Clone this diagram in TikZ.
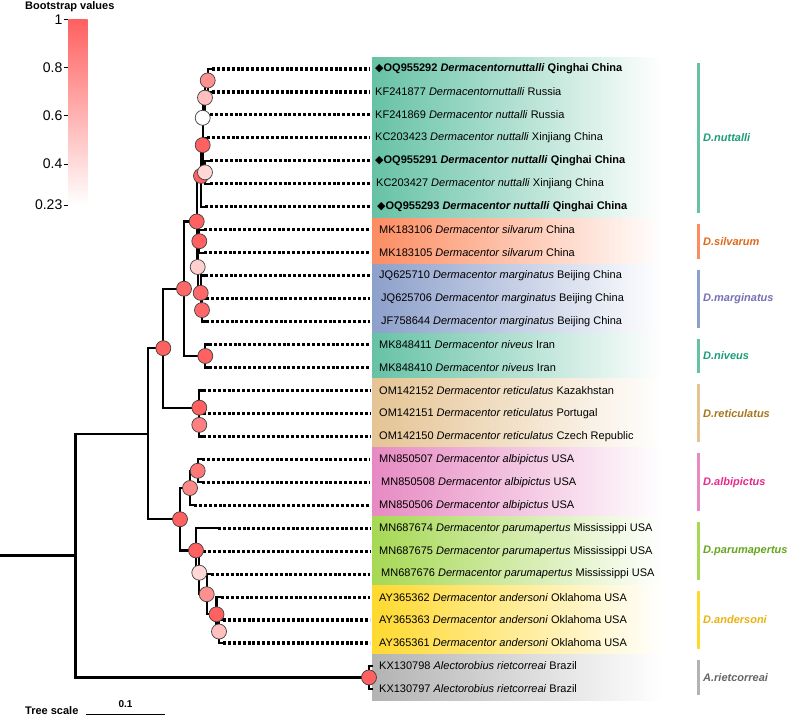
\documentclass[tikz,border=0pt]{standalone}
\usepackage{fontspec}
\setmainfont{Liberation Sans}
\newfontfamily\symfont{DejaVu Sans}
\definecolor{bsred}{RGB}{255,96,96}
\definecolor{cnut}{HTML}{66C2A5}
\definecolor{csil}{HTML}{FC8D62}
\definecolor{cmar}{HTML}{8DA0CB}
\definecolor{cniv}{HTML}{66C2A5}
\definecolor{cret}{HTML}{E5C494}
\definecolor{calb}{HTML}{E78AC3}
\definecolor{cpar}{HTML}{A6D854}
\definecolor{cand}{HTML}{FFD92F}
\definecolor{crie}{HTML}{B3B3B3}
\definecolor{tnut}{HTML}{1B9E77}
\definecolor{tsil}{HTML}{E0661A}
\definecolor{tmar}{HTML}{7570B3}
\definecolor{tniv}{HTML}{1B9E77}
\definecolor{tret}{HTML}{A6761D}
\definecolor{talb}{HTML}{E7298A}
\definecolor{tpar}{HTML}{66A61E}
\definecolor{tand}{HTML}{EBB012}
\definecolor{trie}{HTML}{666666}
\newcommand\leafrow[5]{%
  \coordinate (t#1) at (#3,#2);
  \coordinate (e#1) at (370,#2);
  \node[lbl] (lab#1) at (#4,#2) {#5};}
\newcommand\dmd{{\symfont\char"25C6}}
\begin{document}
\begin{tikzpicture}[x=1pt,y=-1pt,
  branch/.style={line width=2.3pt},
  dots/.style={line width=3.1pt, dash pattern=on 3pt off 1.9pt},
  bs/.style={circle, draw=black!75, line width=0.7pt, minimum size=15pt, inner sep=0pt, fill=bsred!#1!white},
  lbl/.style={anchor=west, inner sep=0pt, font=\fontsize{11}{13}\selectfont},
  clade/.style={anchor=west, inner sep=0pt, font=\fontsize{11}{13}\selectfont\bfseries\itshape},
  cbar/.style={line width=3pt},
  tick/.style={anchor=east, inner sep=0pt, font=\fontsize{14}{16}\selectfont}]
\useasboundingbox (0,0) rectangle (789,717);
% bands
\shade[left color=cnut, right color=white] (372,57.52) rectangle (662,218.24);
\shade[left color=csil, right color=white] (372,218.24) rectangle (662,264.16);
\shade[left color=cmar, right color=white] (372,264.16) rectangle (662,333.04);
\shade[left color=cniv, right color=white] (372,333.04) rectangle (662,378.96);
\shade[left color=cret, right color=white] (372,378.96) rectangle (662,447.84);
\shade[left color=calb, right color=white] (372,447.84) rectangle (662,516.72);
\shade[left color=cpar, right color=white] (372,516.72) rectangle (662,585.60);
\shade[left color=cand, right color=white] (372,585.60) rectangle (662,654.48);
\shade[left color=crie, right color=white] (372,654.48) rectangle (662,700.40);
% leaves
\leafrow{0}{69.00}{212}{375}{\bfseries\dmd OQ955292 \textit{Dermacentornuttalli} Qinghai China}
\leafrow{1}{91.96}{212}{375}{KF241877 \textit{Dermacentornuttalli} Russia}
\leafrow{2}{114.92}{210}{375}{KF241869 \textit{Dermacentor nuttalli} Russia}
\leafrow{3}{137.88}{207}{375}{KC203423 \textit{Dermacentor nuttalli} Xinjiang China}
\leafrow{4}{160.84}{210}{375}{\bfseries\dmd OQ955291 \textit{Dermacentor nuttalli} Qinghai China}
\leafrow{5}{183.80}{210}{376}{KC203427 \textit{Dermacentor nuttalli} Xinjiang China}
\leafrow{6}{206.76}{205}{377}{\bfseries\dmd OQ955293 \textit{Dermacentor nuttalli} Qinghai China}
\leafrow{7}{229.72}{204}{379}{MK183106 \textit{Dermacentor silvarum} China}
\leafrow{8}{252.68}{204}{379}{MK183105 \textit{Dermacentor silvarum} China}
\leafrow{9}{275.64}{205}{379}{JQ625710 \textit{Dermacentor marginatus} Beijing China}
\leafrow{10}{298.60}{206}{381}{JQ625706 \textit{Dermacentor marginatus} Beijing China}
\leafrow{11}{321.56}{206}{381}{JF758644 \textit{Dermacentor marginatus} Beijing China}
\leafrow{12}{344.52}{209}{379}{MK848411 \textit{Dermacentor niveus} Iran}
\leafrow{13}{367.48}{209}{379}{MK848410 \textit{Dermacentor niveus} Iran}
\leafrow{14}{390.44}{203}{379}{OM142152 \textit{Dermacentor reticulatus} Kazakhstan}
\leafrow{15}{413.40}{203}{379}{OM142151 \textit{Dermacentor reticulatus} Portugal}
\leafrow{16}{436.36}{203}{379}{OM142150 \textit{Dermacentor reticulatus} Czech Republic}
\leafrow{17}{459.32}{202}{379}{MN850507 \textit{Dermacentor albipictus} USA}
\leafrow{18}{482.28}{202}{381}{MN850508 \textit{Dermacentor albipictus} USA}
\leafrow{19}{505.24}{194}{379}{MN850506 \textit{Dermacentor albipictus} USA}
\leafrow{20}{528.20}{218}{379}{MN687674 \textit{Dermacentor parumapertus} Mississippi USA}
\leafrow{21}{551.16}{203}{379}{MN687675 \textit{Dermacentor parumapertus} Mississippi USA}
\leafrow{22}{574.12}{211}{381}{MN687676 \textit{Dermacentor parumapertus} Mississippi USA}
\leafrow{23}{597.08}{221}{379}{AY365362 \textit{Dermacentor andersoni} Oklahoma USA}
\leafrow{24}{620.04}{223}{379}{AY365363 \textit{Dermacentor andersoni} Oklahoma USA}
\leafrow{25}{643.00}{223}{379}{AY365361 \textit{Dermacentor andersoni} Oklahoma USA}
\leafrow{26}{665.96}{373}{379}{KX130798 \textit{Alectorobius rietcorreai} Brazil}
\leafrow{27}{688.92}{373}{379}{KX130797 \textit{Alectorobius rietcorreai} Brazil}
% dotted leaders
\foreach \i in {0,...,25} \draw[dots] (t\i) -- (e\i);
% internal nodes
\coordinate (N01) at (207.7,80.48);
\coordinate (N012) at (205,97.70);
\coordinate (N0123) at (202.7,117.79);
\coordinate (N45) at (205,172.32);
\coordinate (N05) at (202.7,145.06);
\coordinate (Nnut) at (201,175.91);
\coordinate (Nsilv) at (199.3,241.20);
\coordinate (N1011) at (202,310.08);
\coordinate (Nmarg) at (200.7,292.86);
\coordinate (Nsm) at (197.7,267.03);
\coordinate (A1a) at (196.7,221.47);
\coordinate (Nniv) at (205.3,356.00);
\coordinate (A1) at (184,288.74);
\coordinate (N1516) at (199.3,424.88);
\coordinate (A2) at (199.3,407.66);
\coordinate (A) at (163.3,348.20);
\coordinate (N1718) at (197.7,470.80);
\coordinate (B1) at (190,488.02);
\coordinate (E) at (219,631.52);
\coordinate (D) at (216.5,614.30);
\coordinate (C) at (206.7,594.21);
\coordinate (Npink) at (199.3,572.69);
\coordinate (B2) at (196,550.45);
\coordinate (B) at (180,519.24);
\coordinate (In) at (148,433.72);
\coordinate (Out) at (369,677.44);
\coordinate (Root) at (75.5,555.58);
\coordinate (R0) at (0,555.58);
% branches
\draw[branch] (R0) -- (Root);
\draw[branch] (Root) |- (In) (Root) |- (Out);
\draw[branch] (Out) |- (t26) (Out) |- (t27);
\draw[branch] (In) |- (A) (In) |- (B);
\draw[branch] (A) |- (A1) (A) |- (A2);
\draw[branch] (A1) |- (A1a) (A1) |- (Nniv);
\draw[branch] (A1a) |- (Nnut) (A1a) |- (Nsm);
\draw[branch] (Nnut) |- (N05) (Nnut) |- (t6);
\draw[branch] (N05) |- (N0123) (N05) |- (N45);
\draw[branch] (N0123) |- (N012) (N0123) |- (t3);
\draw[branch] (N012) |- (N01) (N012) |- (t2);
\draw[branch] (N01) |- (t0) (N01) |- (t1);
\draw[branch] (N45) |- (t4) (N45) |- (t5);
\draw[branch] (Nsm) |- (Nsilv) (Nsm) |- (Nmarg);
\draw[branch] (Nsilv) |- (t7) (Nsilv) |- (t8);
\draw[branch] (Nmarg) |- (t9) (Nmarg) |- (N1011);
\draw[branch] (N1011) |- (t10) (N1011) |- (t11);
\draw[branch] (Nniv) |- (t12) (Nniv) |- (t13);
\draw[branch] (A2) |- (t14) (A2) |- (N1516);
\draw[branch] (N1516) |- (t15) (N1516) |- (t16);
\draw[branch] (B) |- (B1) (B) |- (B2);
\draw[branch] (B1) |- (N1718) (B1) |- (t19);
\draw[branch] (N1718) |- (t17) (N1718) |- (t18);
\draw[branch] (B2) |- (t20) (B2) |- (Npink);
\draw[branch] (Npink) |- (t21) (Npink) |- (C);
\draw[branch] (C) |- (t22) (C) |- (D);
\draw[branch] (D) |- (t23) (D) |- (E);
\draw[branch] (E) |- (t24) (E) |- (t25);
% bootstrap circles (ancestors first)
\node[bs=100] (cA) at (A) {};
\node[bs=100] (cB) at (B) {};
\node[bs=95] (cA1) at (A1) {};
\node[bs=100] (cA1a) at (A1a) {};
\node[bs=100] (cNnut) at (Nnut) {};
\node[bs=100] (cN05) at (N05) {};
\node[bs=0] (cN0123) at (N0123) {};
\node[bs=40] (cN012) at (N012) {};
\node[bs=70] (cN01) at (N01) {};
\node[bs=25] (cN45) at (N45) {};
\node[bs=30] (cNsm) at (Nsm) {};
\node[bs=100] (cNsilv) at (Nsilv) {};
\node[bs=95] (cNmarg) at (Nmarg) {};
\node[bs=95] (cN1011) at (N1011) {};
\node[bs=100] (cNniv) at (Nniv) {};
\node[bs=100] (cA2) at (A2) {};
\node[bs=80] (cN1516) at (N1516) {};
\node[bs=75] (cB1) at (B1) {};
\node[bs=85] (cN1718) at (N1718) {};
\node[bs=100] (cB2) at (B2) {};
\node[bs=25] (cNpink) at (Npink) {};
\node[bs=70] (cC) at (C) {};
\node[bs=100] (cD) at (D) {};
\node[bs=40] (cE) at (E) {};
\node[bs=100] (cOut) at (Out) {};
% clade bars
\draw[cbar, cnut] (698.7,63) -- (698.7,212.76);
\draw[cbar, csil] (698.7,223.72) -- (698.7,258.68);
\draw[cbar, cmar] (698.7,269.64) -- (698.7,327.56);
\draw[cbar, cniv] (698.7,338.52) -- (698.7,373.48);
\draw[cbar, cret] (698.7,384.44) -- (698.7,442.36);
\draw[cbar, calb] (698.7,453.32) -- (698.7,511.24);
\draw[cbar, cpar] (698.7,522.2) -- (698.7,580.12);
\draw[cbar, cand] (698.7,591.08) -- (698.7,649);
\draw[cbar, crie] (698.7,659.96) -- (698.7,694.92);
\node[clade, text=tnut] (knut) at (703,137.88) {D.nuttalli};
\node[clade, text=tsil] (ksil) at (703,241.2) {D.silvarum};
\node[clade, text=tmar] (kmar) at (703,298.6) {D.marginatus};
\node[clade, text=tniv] (kniv) at (703,356) {D.niveus};
\node[clade, text=tret] (kret) at (703,413.4) {D.reticulatus};
\node[clade, text=talb] (kalb) at (703,482.28) {D.albipictus};
\node[clade, text=tpar] (kpar) at (703,551.16) {D.parumapertus};
\node[clade, text=tand] (kand) at (703,620.04) {D.andersoni};
\node[clade, text=trie] (krie) at (703,677.44) {A.rietcorreai};
% legend
\node[anchor=west, inner sep=0pt, font=\fontsize{11}{13}\selectfont\bfseries] (ltitle) at (25,7) {Bootstrap values};
\shade[top color=bsred, bottom color=white] (68.3,19.3) rectangle (87.7,205);
\foreach \v/\y in {1/19.3,0.8/67.5,0.6/115.7,0.4/163.9,0.23/205} {
  \node[tick] at (62.5,\y) {\v};
  \draw[line width=0.8pt] (63.5,\y) -- (67.5,\y);
}
% tree scale
\node[anchor=west, inner sep=0pt, font=\fontsize{11}{13}\selectfont\bfseries] (tscale) at (25,710.5) {Tree scale};
\node[inner sep=0pt, font=\fontsize{10}{12}\selectfont\bfseries] (tval) at (125.5,704.5) {0.1};
\draw[line width=1.3pt] (86,714.3) -- (165,714.3);
\end{tikzpicture}
\end{document}
